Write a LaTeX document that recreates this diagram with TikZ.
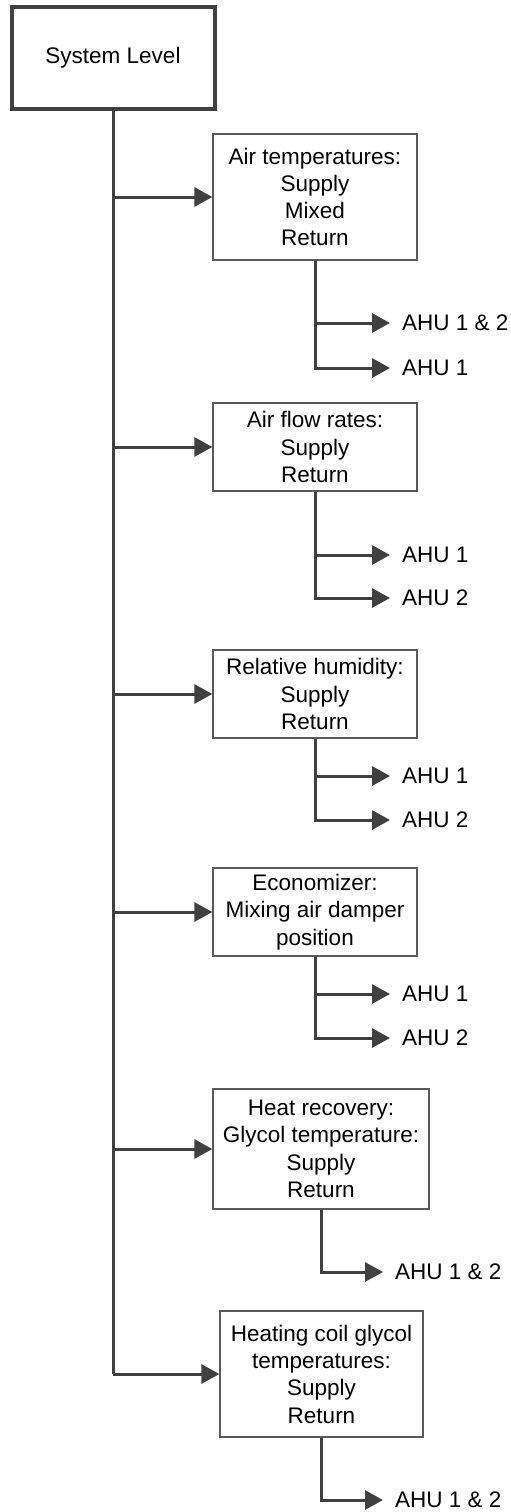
\documentclass[tikz,border=0pt]{standalone}
\usepackage{fontspec}
\setmainfont{Liberation Sans}
\usetikzlibrary{arrows.meta}
\definecolor{linegray}{HTML}{404040}
\definecolor{boxgray}{HTML}{5A5A5A}
\begin{document}
\begin{tikzpicture}[x=1pt, y=-1pt,
  every node/.style={font=\fontsize{22.5}{27.3}\selectfont, text=black},
  topbox/.style={draw=linegray, line width=4pt, minimum width=203pt, minimum height=102pt, inner sep=0pt},
  infobox/.style={draw=boxgray, line width=1.3pt, align=center, inner sep=0pt, minimum width=204pt},
  ahu/.style={anchor=west, inner xsep=12pt, inner ysep=2pt},
  conn/.style={draw=linegray, line width=3pt},
  arr/.style={conn, -{Triangle[length=18pt, width=19pt]}}]
  \useasboundingbox (0,0) rectangle (511,1512);

  % top level box
  \node[topbox] (sys) at (113,58) {System Level};

  % measurement groups
  \node[infobox, minimum height=126pt] (b1) at (315,197)
    {Air temperatures:\\Supply\\Mixed\\Return};
  \node[infobox, minimum height=88pt] (b2) at (315,447)
    {Air flow rates:\\Supply\\Return};
  \node[infobox, minimum height=88pt] (b3) at (315,694)
    {Relative humidity:\\Supply\\Return};
  \node[infobox, minimum height=88pt] (b4) at (315,912)
    {Economizer:\\Mixing air damper\\position};
  \node[infobox, minimum width=216pt, minimum height=120pt] (b5) at (321,1149)
    {Heat recovery:\\Glycol temperature:\\Supply\\Return};
  \node[infobox, minimum width=203pt, minimum height=126pt] (b6) at (321.5,1374)
    {Heating coil glycol\\temperatures:\\Supply\\Return};

  % unit labels
  \node[ahu] (a11) at (390,323) {AHU 1 \& 2};
  \node[ahu] (a12) at (390,368) {AHU 1};
  \node[ahu] (a21) at (390,555) {AHU 1};
  \node[ahu] (a22) at (390,598) {AHU 2};
  \node[ahu] (a31) at (390,776) {AHU 1};
  \node[ahu] (a32) at (390,820) {AHU 2};
  \node[ahu] (a41) at (390,994) {AHU 1};
  \node[ahu] (a42) at (390,1038) {AHU 2};
  \node[ahu] (a51) at (383,1272) {AHU 1 \& 2};
  \node[ahu] (a61) at (383,1500) {AHU 1 \& 2};

  % main trunk with one tap per group
  \foreach \i in {1,...,6} { \coordinate (t\i) at (sys.south |- b\i.west); }
  \draw[conn] (sys.south) -- (t6);
  \foreach \i in {1,...,6} { \draw[arr] (t\i) -- (b\i.west); }

  % branches to the units
  \draw[arr] (b1.south) |- (a11.west);
  \draw[arr] (b1.south) |- (a12.west);
  \draw[arr] (b2.south) |- (a21.west);
  \draw[arr] (b2.south) |- (a22.west);
  \draw[arr] (b3.south) |- (a31.west);
  \draw[arr] (b3.south) |- (a32.west);
  \draw[arr] (b4.south) |- (a41.west);
  \draw[arr] (b4.south) |- (a42.west);
  \draw[arr] (b5.south) |- (a51.west);
  \draw[arr] (b6.south) |- (a61.west);
\end{tikzpicture}
\end{document}
